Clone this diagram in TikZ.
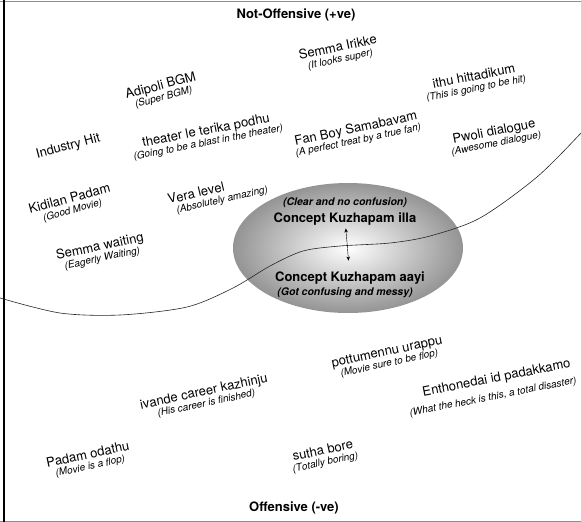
\documentclass[tikz,border=0pt]{standalone}
\usepackage{fontspec}
\setmainfont{TeX Gyre Heros}
\usetikzlibrary{
  arrows.meta,
  calc,              % Calculations $...$
  decorations.text,  % Text along path
  shapes.geometric,  % Shape "ellipse"
}
\newcommand{\wf}{\fontsize{13}{14}\selectfont}
\newcommand{\subfont}{\fontsize{10}{12}\selectfont\itshape}
% point, angle, shift along, shift across, text
\newcommand{\wordline}[5]{%
  \path[slanted={#5}] ($(#1)+(#2:-120+#3)+(#2+90:#4)$) -- ($(#1)+(#2:120+#3)+(#2+90:#4)$);}
% point, angle, word, meaning
\newcommand{\gl}[4]{%
  \wordline{#1}{#2}{0}{1.5}{|\wf|#3}%
  \wordline{#1}{#2}{0}{-9.5}{|\subfont|(#4)}}
\tikzset{
  >={Stealth[length=4pt,width=3.5pt]},
  x=1pt,
  y=1pt,
  slanted/.style={
    decorate,
    decoration={text along path, text align=center, text={#1}}
  },
  head/.style={
    inner sep=1pt,
    font=\fontsize{13}{15}\selectfont\bfseries
  },
  head sub/.style={
    inner sep=1pt,
    font=\fontsize{10.5}{12}\selectfont\bfseries\itshape
  },
  bubble/.style={
    ellipse,
    minimum width=230pt,
    minimum height=130pt,
    inner color=white,
    outer color=black!42
  },
  divider/.style={
    line width=0.6pt,
    black!85
  }
}
\begin{document}
\begin{tikzpicture}
\useasboundingbox (0,0) rectangle (581,-522);
\draw[black!45, line width=1pt] (0,-1) -- (581,-1);
\draw[black!45, line width=1pt] (0,-521) -- (581,-521);
\draw[line width=1.2pt] (4,0) -- (4,-522);

% middle bubble
\node[bubble] (concept) at (348,-248) {};
\draw[divider] plot[smooth] coordinates {(0,-298) (60,-313) (120,-315) (187,-307)
  (233,-288) (270,-266) (303,-251) (340,-246) (390,-243) (430,-236) (480,-218)
  (537,-177) (581,-133)};
\node[head sub] (clear) at (345,-203) {(Clear and no confusion)};
\node[head] (illa) at (345,-219) {Concept Kuzhapam illa};
\node[head] (aayi) at (350,-278) {Concept Kuzhapam aayi};
\node[head sub] (messy) at (345,-293) {(Got confusing and messy)};
\draw[<->, thin, shorten <=2pt, shorten >=10pt] (illa) -- (aayi);

\node[head] (pos) at (296,-15) {Not-Offensive (+ve)};
\node[head] (neg) at (294,-508) {Offensive (-ve)};

% not offensive
\coordinate (adipoli) at (162,-91);
\coordinate (irikke) at (339,-53);
\coordinate (ithu) at (475,-82);
\coordinate (industry) at (68,-146);
\coordinate (theater) at (207,-136);
\coordinate (fanboy) at (357,-134);
\coordinate (pwoli) at (495,-137);
\coordinate (kidilan) at (71,-204);
\coordinate (vera) at (210,-196);
\coordinate (waiting) at (101,-252);
\gl{adipoli}{15}{Adipoli BGM}{Super BGM}
\gl{irikke}{12}{Semma Irikke}{It looks super}
\gl{ithu}{11}{ithu hittadikum}{This is going to be hit}
\wordline{industry}{15}{0}{-4}{|\wf|Industry Hit}
\gl{theater}{11}{theater le terika podhu}{Going to be a blast in the theater}
\gl{fanboy}{12}{Fan Boy Samabavam}{A perfect treat by a true fan}
\gl{pwoli}{11}{Pwoli dialogue}{Awesome dialogue}
\gl{kidilan}{15}{Kidilan Padam}{Good Movie}
\wordline{vera}{13}{-13}{1.5}{|\wf|Vera level}
\wordline{vera}{13}{11}{-9.5}{|\subfont|(Absolutely amazing)}
\gl{waiting}{12}{Semma waiting}{Eagerly Waiting}

% offensive
\coordinate (ivande) at (205,-397);
\coordinate (pottu) at (388,-357);
\coordinate (enthone) at (494,-386);
\coordinate (odathu) at (89,-460);
\coordinate (sutha) at (324,-456);
\gl{ivande}{12}{ivande career kazhinju}{His career is finished}
\gl{pottu}{12}{pottumennu urappu}{Movie sure to be flop}
\wordline{enthone}{11}{4}{3.5}{|\wf|Enthonedai id padakkamo}
\wordline{enthone}{11}{-3}{-13.5}{|\subfont|(What the heck is this, a total disaster)}
\gl{odathu}{12}{Padam odathu}{Movie is a flop}
\gl{sutha}{12}{sutha bore}{Totally boring}
\end{tikzpicture}
\end{document}
